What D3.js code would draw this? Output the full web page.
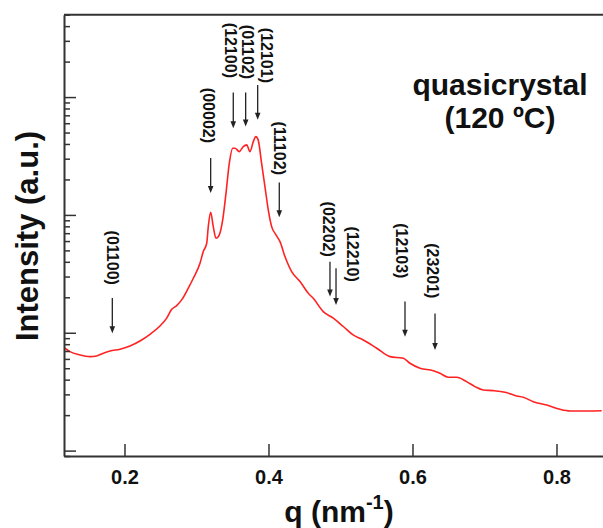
<!DOCTYPE html>
<html>
<head>
<meta charset="utf-8">
<script src="https://cdnjs.cloudflare.com/ajax/libs/d3/7.8.5/d3.min.js"></script>
<style>
  body { margin: 0; background: #fff; }
  text { font-family: "Liberation Sans", Arial, sans-serif; font-weight: bold; fill: #111; }
</style>
</head>
<body>
<div id="chart"></div>
<script>
// scattering curve (q in nm^-1, intensity in a.u.)
var q = [0.1174, 0.1243, 0.1382, 0.1521, 0.1614, 0.1706, 0.1799, 0.1938, 0.2076, 0.2215,
         0.2354, 0.2493, 0.2586, 0.2656, 0.2725, 0.2794, 0.2886, 0.2956, 0.3049, 0.3094,
         0.3142, 0.3164, 0.3197, 0.3233, 0.3271, 0.3317, 0.3364, 0.3410, 0.3456, 0.3503,
         0.3535, 0.3594, 0.3650, 0.3697, 0.3743, 0.3789, 0.3825, 0.3857, 0.3904, 0.3951,
         0.3997, 0.4044, 0.4104, 0.4160, 0.4229, 0.4322, 0.4438, 0.4553, 0.4622, 0.4761,
         0.4900, 0.5039, 0.5176, 0.5317, 0.5503, 0.5688, 0.5872, 0.5965, 0.6104, 0.6289,
         0.6382, 0.6497, 0.6614, 0.6751, 0.6868, 0.6983, 0.7122, 0.7285, 0.7447, 0.7539,
         0.7678, 0.7864, 0.8049, 0.8188, 0.8419, 0.8628];
var intensity = [7.39, 6.91, 6.48, 6.27, 6.36, 6.70, 7.01, 7.25, 7.73, 8.52,
                 9.71, 11.4, 13.3, 15.8, 17.0, 19.0, 23.9, 29.0, 38.9, 48.8,
                 57.5, 79.6, 105.4, 79.6, 63.4, 67.7, 90.7, 152.9, 274.8, 368.4,
                 368.4, 344.7, 380.0, 392.9, 344.7, 419.0, 462.0, 433.2, 274.8, 173.9,
                 110.3, 79.6, 67.7, 59.3, 44.3, 33.0, 27.2, 21.6, 19.6, 15.1,
                 13.3, 11.3, 9.58, 8.69, 7.39, 6.27, 6.08, 5.51, 5.00, 4.77,
                 4.53, 4.19, 4.19, 3.85, 3.49, 3.27, 3.23, 3.13, 2.91, 2.84,
                 2.60, 2.44, 2.24, 2.17, 2.17, 2.18];

// reflection labels with arrows
var hkl       = ["(01100)", "(00002)", "(12100)", "(01102)", "(12101)", "(11102)", "(02202)", "(12210)", "(12103)", "(23201)"];
var arrowQ    = [0.1831, 0.3197, 0.3511, 0.3683, 0.3850, 0.4150, 0.4854, 0.4938, 0.5896, 0.6313];
var arrowTail = [19.7, 304.7, 1092, 1092, 1269, 188.1, 40.1, 35.3, 18.4, 14.6];
var arrowTip  = [9.90, 153.8, 544.5, 561.9, 640.5, 95.6, 20.3, 17.2, 9.27, 7.15];
var labelQ    = [0.1831, 0.3174, 0.3479, 0.3708, 0.3975, 0.4160, 0.4840, 0.5174, 0.5854, 0.6278];
var labelTop  = [73.6, 1197, 4265, 4102, 3868, 619.5, 129.7, 79.6, 85.0, 57.5];

var xTicks = [0.2, 0.4, 0.6, 0.8];
var xDomain = [0.116, 0.8646];
var yDomain = [0.9, 5000];

var width = 603,
    height = 528,
    plotL = 64,
    plotR = 603,
    plotT = 14.7,
    plotB = 456;

var svg = d3.select("#chart").append("svg")
    .attr("width", width)
    .attr("height", height);

var x = d3.scaleLinear().domain(xDomain).range([plotL, plotR]);
var y = d3.scaleLog().domain(yDomain).range([plotB, plotT]);

svg.append("clipPath").attr("id", "plot")
   .append("rect")
   .attr("x", plotL).attr("y", plotT)
   .attr("width", plotR - plotL).attr("height", plotB - plotT);

// curve
var pts = q.map(function(d, i) { return [d, intensity[i]]; });
var line = d3.line()
    .x(function(d) { return x(d[0]); })
    .y(function(d) { return y(d[1]); })
    .curve(d3.curveMonotoneX);

svg.append("path")
   .datum(pts)
   .attr("clip-path", "url(#plot)")
   .attr("d", line)
   .attr("fill", "none")
   .attr("stroke", "#f22")
   .attr("stroke-width", 1.6);

// x axis
var xAxis = svg.append("g")
    .attr("transform", "translate(0," + plotB + ")")
    .call(d3.axisBottom(x).tickValues(xTicks).tickFormat(d3.format(".1f"))
          .tickSizeInner(-12).tickSizeOuter(0).tickPadding(14));
xAxis.select(".domain").attr("stroke", "#333").attr("stroke-width", 2);
xAxis.selectAll(".tick line").attr("stroke", "#333").attr("stroke-width", 1.5);
xAxis.selectAll(".tick text")
     .style("font-size", "20px")
     .style("font-family", "'Liberation Sans', Arial, sans-serif")
     .style("font-weight", "bold")
     .attr("fill", "#111");

// y axis, log ticks without labels
var yTicks = [];
[0.1, 1, 10, 100, 1000].forEach(function(dec) {
    for (var k = 1; k < 10; k++) {
        var v = dec * k;
        if (v >= yDomain[0] && v <= yDomain[1]) yTicks.push(v);
    }
});
var yAxis = svg.append("g")
    .attr("transform", "translate(" + plotL + ",0)")
    .call(d3.axisLeft(y).tickValues(yTicks).tickFormat("")
          .tickSizeInner(-12).tickSizeOuter(0));
yAxis.select(".domain").attr("stroke", "#333").attr("stroke-width", 2);
yAxis.selectAll(".tick line")
     .attr("stroke", "#333")
     .attr("stroke-width", 1.5)
     .attr("x2", function(d) {
         var m = Math.log10(d);
         return Math.abs(m - Math.round(m)) < 1e-6 ? 12 : 6;
     });

// top frame
svg.append("line")
   .attr("x1", plotL).attr("x2", plotR)
   .attr("y1", plotT).attr("y2", plotT)
   .attr("stroke", "#333").attr("stroke-width", 2);

// annotations
var ann = svg.append("g");
hkl.forEach(function(lab, i) {
    var ax = x(arrowQ[i]),
        y0 = y(arrowTail[i]),
        y1 = y(arrowTip[i]);
    ann.append("line")
       .attr("x1", ax).attr("x2", ax)
       .attr("y1", y0).attr("y2", y1 - 6)
       .attr("stroke", "#222").attr("stroke-width", 1.3);
    ann.append("path")
       .attr("d", "M" + (ax - 2.8) + "," + (y1 - 7) + "L" + (ax + 2.8) + "," + (y1 - 7) + "L" + ax + "," + y1 + "Z")
       .attr("fill", "#222");
    ann.append("text")
       .attr("transform", "translate(" + x(labelQ[i]) + "," + y(labelTop[i]) + ") rotate(90)")
       .attr("dy", "0.35em")
       .style("font-size", "16px")
       .text(lab);
});

// titles
svg.append("text")
   .attr("transform", "translate(38,236) rotate(-90)")
   .attr("text-anchor", "middle")
   .style("font-size", "31px")
   .text("Intensity (a.u.)");

var xt = svg.append("text")
   .attr("x", 339).attr("y", 522)
   .attr("text-anchor", "middle")
   .style("font-size", "30px");
xt.append("tspan").text("q (nm");
xt.append("tspan").style("font-size", "20px").attr("dy", -13).text("-1");
xt.append("tspan").attr("dy", 13).text(")");

svg.append("text")
   .attr("x", 500).attr("y", 95)
   .attr("text-anchor", "middle")
   .style("font-size", "30px")
   .text("quasicrystal");
svg.append("text")
   .attr("x", 500).attr("y", 128)
   .attr("text-anchor", "middle")
   .style("font-size", "30px")
   .text("(120 ºC)");
</script>
</body>
</html>
